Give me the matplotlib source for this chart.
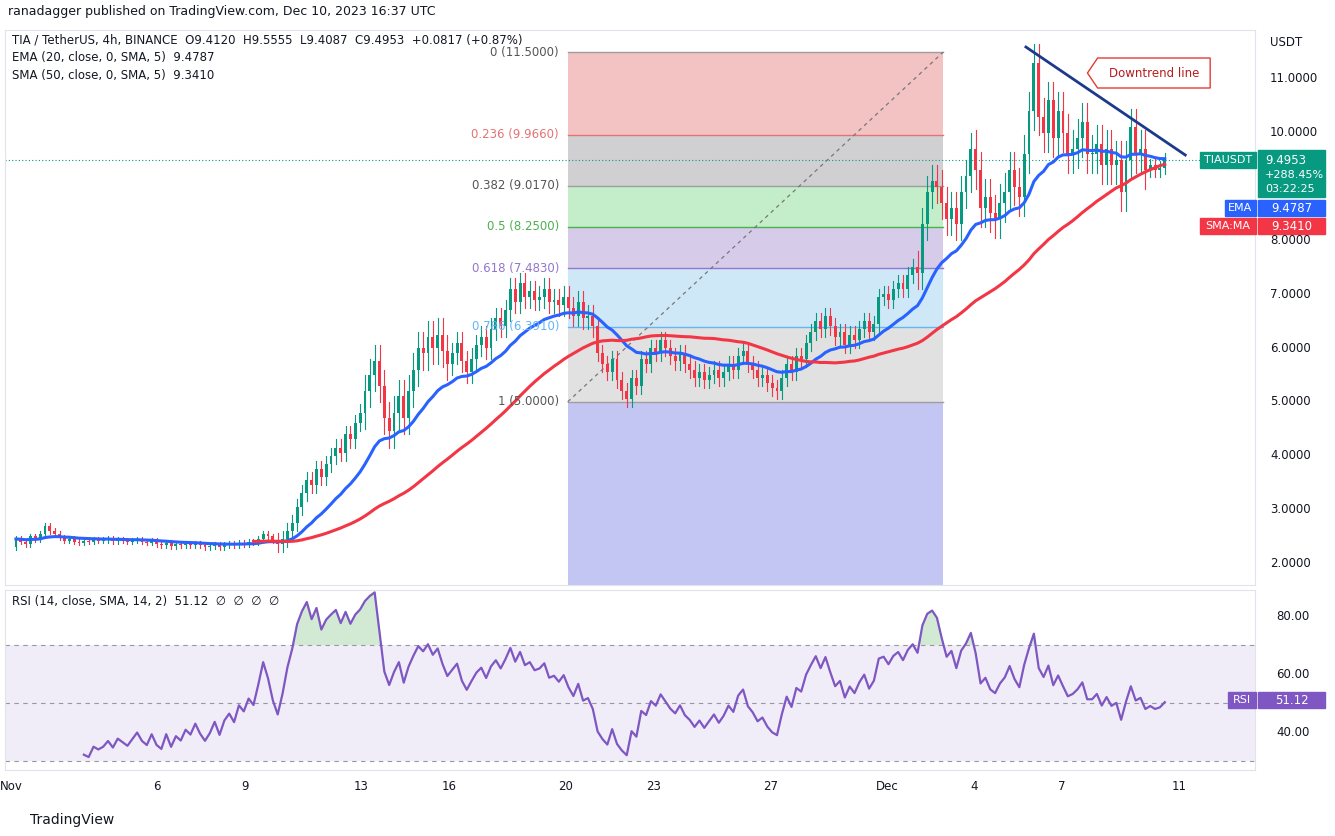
import numpy as np, pandas as pd
import matplotlib
matplotlib.use("Agg")
import matplotlib.pyplot as plt
from matplotlib.patches import Rectangle, FancyBboxPatch, Polygon

closes = [
2.45,2.40,2.35,2.50,2.45,2.55, 2.70,2.60,2.55,2.48,2.42,2.45, 2.40,2.38,2.42,2.40,2.44,2.42,
2.43,2.45,2.41,2.44,2.42,2.40, 2.42,2.44,2.40,2.38,2.41,2.36, 2.34,2.38,2.32,2.35,2.33,2.36,
2.34,2.37,2.33,2.30,2.32,2.35, 2.30,2.34,2.36,2.33,2.38,2.36, 2.40,2.38,2.45,2.55,2.50,2.42,
2.36,2.45,2.60,2.75,3.05,3.30, 3.55,3.45,3.75,3.60,3.85,4.00, 4.15,4.05,4.40,4.30,4.60,4.80,
5.20,5.50,5.75,5.30,4.70,4.45, 4.80,5.10,4.70,5.20,5.60,6.00, 5.90,6.20,6.00,6.25,5.95,5.70,
5.90,6.10,5.75,5.55,5.80,6.05, 6.20,6.00,6.35,6.55,6.40,6.70, 7.10,6.85,7.20,6.95,7.05,6.90,
6.95,7.10,6.85,6.90,6.80,6.95, 6.75,6.60,6.85,6.55,6.60,6.40, 5.90,5.70,5.55,5.80,5.40,5.20,
5.05,5.45,5.30,5.80,5.70,6.00, 5.90,6.15,6.00,5.85,5.75,5.90, 5.70,5.60,5.45,5.55,5.40,5.50,
5.60,5.45,5.55,5.70,5.60,5.85, 5.95,5.70,5.60,5.45,5.50,5.35, 5.25,5.20,5.45,5.70,5.55,5.85,
5.80,6.10,6.30,6.50,6.35,6.60, 6.40,6.20,6.30,6.05,6.25,6.15, 6.35,6.50,6.30,6.45,6.95,7.00,
6.90,7.10,7.20,7.10,7.35,7.50, 7.40,8.30,8.90,9.10,9.00,8.70, 8.40,8.60,8.30,8.90,9.20,9.70,
9.30,8.60,8.80,8.50,8.40,8.70, 8.90,9.30,9.00,8.80,9.60,10.40, 11.30,10.30,10.00,10.60,9.90,10.40,
10.00,9.60,9.70,9.90,10.20,9.60, 9.60,9.80,9.40,9.70,9.40,9.50, 8.90,9.50,10.10,9.60,9.70,9.30,
9.40,9.30,9.35,9.50]
first_open = 2.30
daily_wick = [0.05]*9 + [0.15]*3 + [0.3]*3 + [0.2]*5 + [0.15]*7 + [0.15]*4 + [0.3]*2 + [0.35]*6 + [0.12]
fib_levels = [11.5, 9.966, 9.017, 8.25, 7.483, 6.391, 5.0]
fib_names = ["0", "0.236", "0.382", "0.5", "0.618", "0.786", "1"]
fib_colors = ["#f2b8b8", "#c8c8cc", "#b9ecc0", "#cfc3e6", "#c6e4f6", "#dcdcdc"]
fib_line_colors = ["#9e9e9e", "#e57373", "#9e9e9e", "#4caf50", "#9575cd", "#64b5f6", "#9e9e9e"]
price_ticks = [2, 3, 4, 5, 6, 7, 8, 10, 11]
date_ticks = [0, 5, 8, 12, 15, 19, 22, 26, 30, 33, 36, 40]
date_labels = ["Nov", "6", "9", "13", "16", "20", "23", "27", "Dec", "4", "7", "11"]

c = np.array(closes)
o = np.concatenate([[first_open], c[:-1]])
n = len(c)
w = np.repeat(daily_wick, 6)[:n]
hi = np.maximum(o, c) + w
lo = np.minimum(o, c) - w
x = np.arange(n) / 6.0
s = pd.Series(c)
ema = s.ewm(span=20, adjust=False).mean()
sma = s.rolling(50).mean()
d = s.diff()
up = d.clip(lower=0).ewm(alpha=1/14, adjust=False).mean()
dn = (-d.clip(upper=0)).ewm(alpha=1/14, adjust=False).mean()
rsi = 100 - 100/(1+up/dn)
rsi[:14] = np.nan

W, H = 1335, 836
fig = plt.figure(figsize=(W/100, H/100), dpi=100)
fig.patch.set_facecolor("white")
X0, X1 = 5/W, 1255/W
ax = fig.add_axes([X0, 1-585/H, X1-X0, (585-30)/H])
ax2 = fig.add_axes([X0, 1-770/H, X1-X0, (770-590)/H])
xlim = ((0-11)/29.2, (1255-11)/29.2)
for a in (ax, ax2):
    a.set_xlim(*xlim)
    for sp in a.spines.values():
        sp.set_color("#e0e3eb")
    a.tick_params(length=0)
ax.set_ylim(1.595, 11.91)
ax2.set_ylim(26.9, 89)

# fibonacci box
fx0, fx1 = (565-11)/29.2, (942-11)/29.2
for i in range(6):
    ax.add_patch(Rectangle((fx0, fib_levels[i+1]), fx1-fx0, fib_levels[i]-fib_levels[i+1],
                           color=fib_colors[i], alpha=0.85, lw=0, zorder=0))
ax.add_patch(Rectangle((fx0, 1.0), fx1-fx0, 4.0, color="#c3c6f2", lw=0, zorder=0))
for lv, nm, lc in zip(fib_levels, fib_names, fib_line_colors):
    ax.plot([fx0, fx1], [lv, lv], color=lc, lw=1, zorder=1)
    ax.text(fx0-0.3, lv, f"{nm} ({lv:.4f})", ha="right", va="center", fontsize=8.5, color=lc if lc != "#9e9e9e" else "#555555", zorder=5)
ax.plot([fx0, fx1], [5.0, 11.5], color="#777777", lw=0.9, ls=(0, (3, 3)), zorder=1)

# candles
cw = 0.1
for i in range(n):
    col = "#089981" if c[i] >= o[i] else "#f23645"
    ax.plot([x[i], x[i]], [lo[i], hi[i]], color=col, lw=0.8, zorder=3)
    ax.add_patch(Rectangle((x[i]-cw/2, min(o[i], c[i])), cw, max(abs(c[i]-o[i]), 0.02), color=col, lw=0, zorder=3))
ax.plot(x, ema, color="#2962ff", lw=2.2, zorder=4)
ax.plot(x, sma, color="#f23645", lw=2.2, zorder=4)
ax.axhline(c[-1], color="#089981", lw=0.8, ls=(0, (1, 2)), zorder=2)

# downtrend line + label
ax.plot([(1025-11)/29.2, (1185-11)/29.2], [11.91-(47-30)/53.8, 11.91-(155-30)/53.8], color="#1c3a8c", lw=2, zorder=5)
bx0, bx1 = (1097-11)/29.2, (1210-11)/29.2
by0, by1 = 11.91-(88-30)/53.8, 11.91-(58-30)/53.8
ax.add_patch(Polygon([[bx0, by0], [bx1, by0], [bx1, by1], [bx0, by1], [bx0-0.35, (by0+by1)/2]],
                     closed=True, fc="white", ec="#e53935", lw=1, zorder=6))
ax.text((bx0+bx1)/2, (by0+by1)/2, "Downtrend line", ha="center", va="center", fontsize=8.5, color="#b71c1c", zorder=7)

ax.set_xticks([]); ax.set_yticks([])
ax2.set_xticks([]); ax2.set_yticks([])

def ypx_price(v): return 79 + (11 - v)*53.8
def ypx_rsi(v): return 616 + (80 - v)*2.9
for v in price_ticks:
    fig.text(1270/W, 1-ypx_price(v)/H, f"{v:.4f}", fontsize=8.5, color="#131722", va="center")
for v in [80, 60, 40]:
    fig.text(1276/W, 1-ypx_rsi(v)/H, f"{v:.2f}", fontsize=8.5, color="#131722", va="center")
fig.text(1270/W, 1-43/H, "USDT", fontsize=8.5, color="#131722", va="center")

def tag(y, txt, col, x0=1258, x1=1325, fs=8.5, tc="white"):
    fig.patches.append(Rectangle((x0/W, 1-(y+8)/H), (x1-x0)/W, 16/H, transform=fig.transFigure, color=col, figure=fig))
    fig.text((x0+x1)/2/W, 1-y/H, txt, ha="center", va="center", fontsize=fs, color=tc)
fig.patches.append(Rectangle((1258/W, 1-197/H), 67/W, 47/H, transform=fig.transFigure, color="#089981", figure=fig))
fig.text(1265/W, 1-160/H, "9.4953", fontsize=8.5, color="white", va="center")
fig.text(1265/W, 1-175/H, "+288.45%", fontsize=8, color="white", va="center")
fig.text(1265/W, 1-189/H, "03:22:25", fontsize=8, color="white", va="center")
fig.patches.append(Rectangle((1200/W, 1-168/H), 56/W, 16/H, transform=fig.transFigure, color="#089981", figure=fig))
fig.text(1228/W, 1-160/H, "TIAUSDT", ha="center", va="center", fontsize=8, color="white")
tag(208, "9.4787", "#2962ff")
fig.patches.append(Rectangle((1225/W, 1-216/H), 31/W, 16/H, transform=fig.transFigure, color="#2962ff", figure=fig))
fig.text(1240/W, 1-208/H, "EMA", ha="center", va="center", fontsize=8, color="white")
tag(226, "9.3410", "#f23645")
fig.patches.append(Rectangle((1200/W, 1-234/H), 56/W, 16/H, transform=fig.transFigure, color="#f23645", figure=fig))
fig.text(1228/W, 1-226/H, "SMA:MA", ha="center", va="center", fontsize=8, color="white")
tag(700, "51.12", "#7e57c2")
fig.patches.append(Rectangle((1228/W, 1-708/H), 28/W, 16/H, transform=fig.transFigure, color="#7e57c2", figure=fig))
fig.text(1242/W, 1-700/H, "RSI", ha="center", va="center", fontsize=8, color="white")

# RSI panel
ax2.axhspan(30, 70, color="#7e57c2", alpha=0.1, lw=0)
for lv in (70, 50, 30):
    ax2.axhline(lv, color="#9598a1", lw=0.8, ls=(0, (4, 4)))
ax2.plot(x, rsi, color="#7e57c2", lw=1.6)
rv = rsi.values
ax2.fill_between(x, 70, rv, where=np.nan_to_num(rv) > 70, color="#4caf50", alpha=0.25, interpolate=True, lw=0)

for dt, lb in zip(date_ticks, date_labels):
    xp = 11 + dt*29.2
    fig.text(xp/W, 1-787/H, lb, ha="center", va="center", fontsize=8.5, color="#131722")

fig.text(8/W, 1-12/H, "ranadagger published on TradingView.com, Dec 10, 2023 16:37 UTC", fontsize=9, color="#131722", va="center")
fig.text(12/W, 1-40/H, "TIA / TetherUS, 4h, BINANCE  O9.4120  H9.5555  L9.4087  C9.4953  +0.0817 (+0.87%)", fontsize=8.5, color="#131722", va="center")
fig.text(12/W, 1-58/H, "EMA (20, close, 0, SMA, 5)  9.4787", fontsize=8.5, color="#131722", va="center")
fig.text(12/W, 1-76/H, "SMA (50, close, 0, SMA, 5)  9.3410", fontsize=8.5, color="#131722", va="center")
fig.text(12/W, 1-602/H, "RSI (14, close, SMA, 14, 2)  51.12  ∅  ∅  ∅  ∅", fontsize=8.5, color="#131722", va="center")
fig.text(30/W, 1-820/H, "TradingView", fontsize=10, color="#131722", va="center")
fig.savefig("out.png", dpi=100)
